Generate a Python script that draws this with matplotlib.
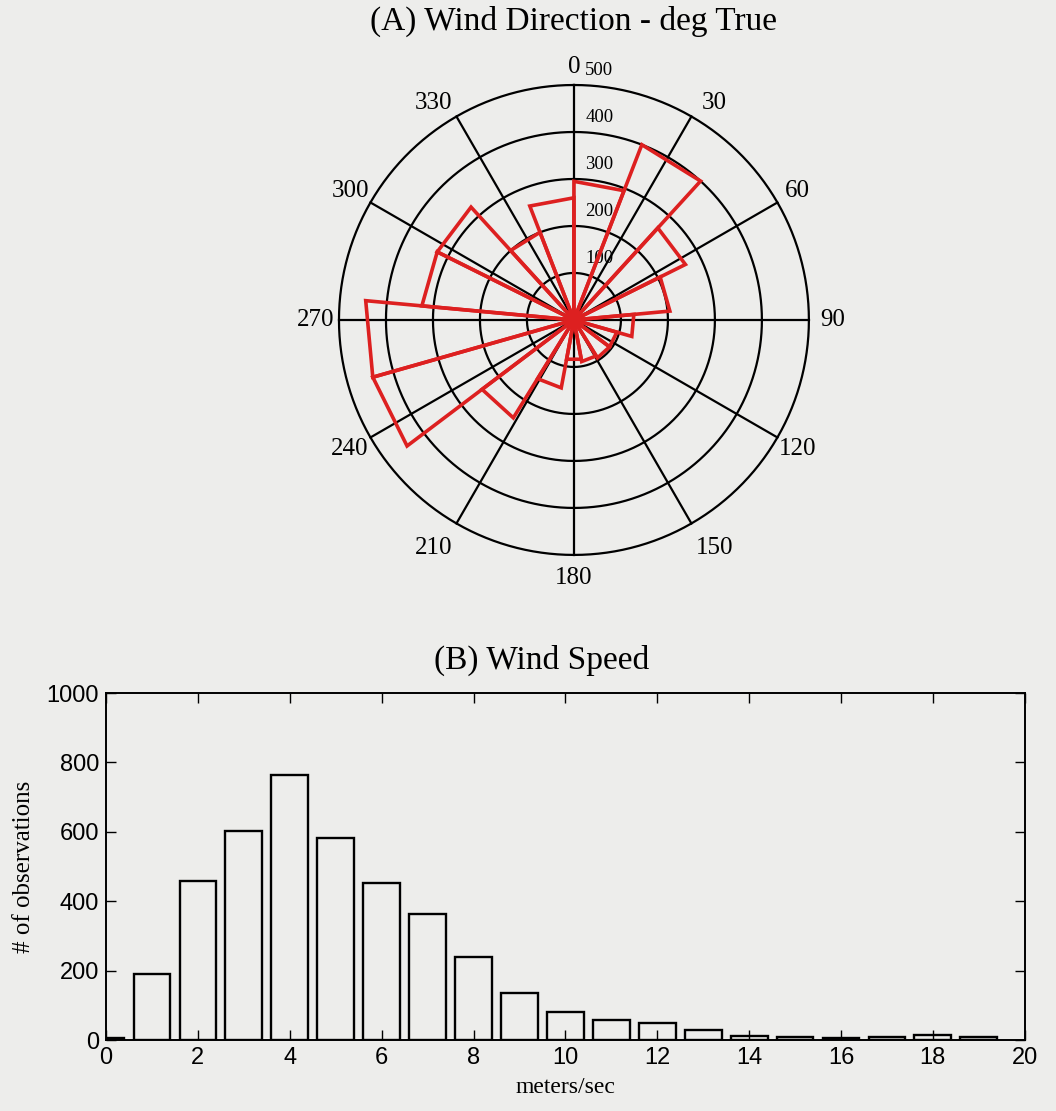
import numpy as np
import matplotlib
matplotlib.use('Agg')
import matplotlib.pyplot as plt

# ---------------- data ----------------
# wind direction rose: 17 equal sectors clockwise from north
rose_counts = [295, 400, 265, 205, 128, 95, 95, 90, 85, 147, 245, 445, 445, 325, 325, 200, 260]
ring_values = [100, 200, 300, 400, 500]
angle_ticks = [0, 30, 60, 90, 120, 150, 180, 210, 240, 270, 300, 330]

# wind speed histogram
speed_centers = list(range(20))
speed_counts = [6, 189, 457, 602, 763, 583, 453, 362, 240, 135, 80, 59, 49, 29, 12, 10, 5, 8, 15, 9]
x_ticks = [0, 2, 4, 6, 8, 10, 12, 14, 16, 18, 20]
y_ticks = [0, 200, 400, 600, 800, 1000]

SERIF = ['Liberation Serif', 'DejaVu Serif']
SANS = ['Liberation Sans', 'DejaVu Sans']
BG = '#ededeb'
RED = '#dd2020'

fig = plt.figure(figsize=(10.56, 11.11), dpi=100, facecolor=BG)

# ---------------- (A) polar rose ----------------
ax = fig.add_axes([0.321, 0.5005, 0.445, 0.423], projection='polar')
ax.set_facecolor('none')
ax.set_theta_zero_location('N')
ax.set_theta_direction(-1)
ax.set_ylim(0, 500)
ax.set_xticks([])
ax.set_yticks([])
ax.grid(False)
ax.spines['polar'].set_visible(False)

tt = np.linspace(0, 2 * np.pi, 721)
for r in ring_values:
    ax.plot(tt, np.full_like(tt, r), color='black', lw=1.6, zorder=1, clip_on=False)
for a in angle_ticks:
    th = np.deg2rad(a)
    ax.plot([th, th], [0, ring_values[-1]], color='black', lw=1.6, zorder=1, clip_on=False)

label_shift = {0: (0, -4), 30: (8, -5), 330: (-8, -5), 150: (8, -3), 210: (-8, -3)}
for a in angle_ticks:
    th = np.deg2rad(a)
    dx, dy = label_shift.get(a, (0, 0))
    ax.annotate(str(a), xy=(th, 550), xytext=(dx, dy), textcoords='offset points',
                ha='center', va='center', fontsize=18, family=SERIF,
                annotation_clip=False)

for r in ring_values:
    xr, yr = 24.0, r + 30.0
    ax.text(np.arctan2(xr, yr), np.hypot(xr, yr), str(r), ha='left', va='center',
            fontsize=13.5, family=SERIF, clip_on=False, zorder=2)

n = len(rose_counts)
width = 2 * np.pi / n
for i, v in enumerate(rose_counts):
    t0 = i * width
    t1 = (i + 1) * width
    ax.plot([t0, t0, t1, t1], [0, v, v, 0], color=RED, lw=2.6,
            solid_joinstyle='miter', marker='o', markevery=[0, 3], ms=11,
            mfc=RED, mec=RED, zorder=3, clip_on=False)

fig.text(0.543, 0.981, '(A) Wind Direction - deg True', ha='center', va='center',
         fontsize=24, family=SERIF)

# ---------------- (B) histogram ----------------
bx = fig.add_axes([0.1004, 0.0639, 0.870, 0.3123])
bx.set_facecolor('none')
bx.bar(speed_centers, speed_counts, width=0.8, facecolor='none', edgecolor='black',
       linewidth=1.7, zorder=3)
bx.set_xlim(0, 20)
bx.set_ylim(0, 1000)
bx.set_xticks(x_ticks)
bx.set_yticks(y_ticks)
bx.tick_params(direction='in', length=7, width=1.0, top=True, right=True,
               labelsize=17, pad=5)
for lab in bx.get_xticklabels() + bx.get_yticklabels():
    lab.set_family(SANS)
for s in bx.spines.values():
    s.set_linewidth(1.4)
bx.set_ylabel('# of observations', fontsize=18, family=SERIF, labelpad=8)
bx.set_xlabel('meters/sec', fontsize=17, family=SERIF, labelpad=6)

fig.text(0.513, 0.406, '(B) Wind Speed', ha='center', va='center',
         fontsize=24, family=SERIF)

fig.savefig('out.png', dpi=100, facecolor=BG)
